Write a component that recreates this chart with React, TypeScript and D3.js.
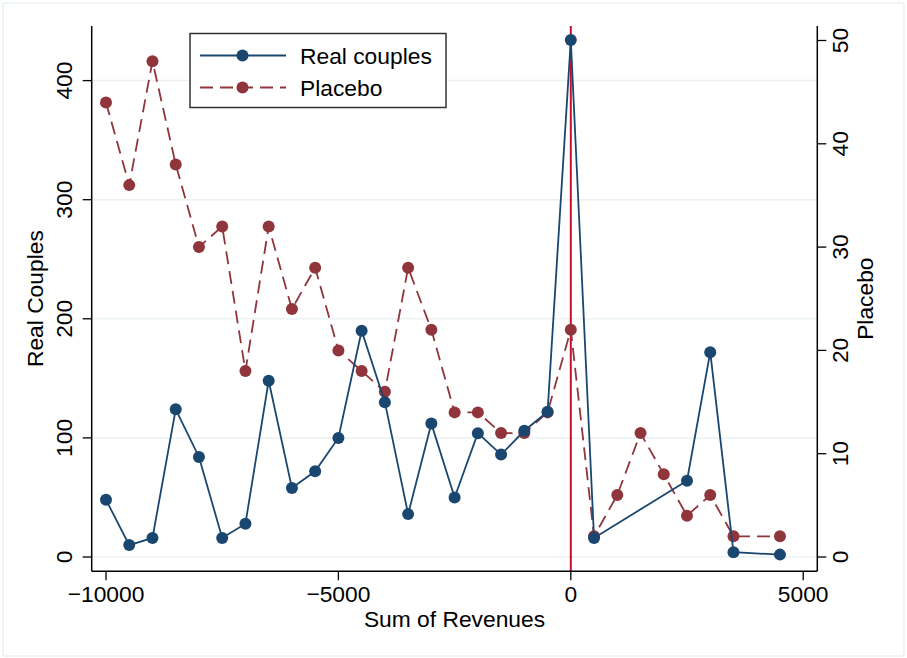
import React from "react";
import * as d3 from "d3";

const realX = [-10000, -9500, -9000, -8500, -8000, -7500, -7000, -6500, -6000, -5500, -5000, -4500, -4000, -3500, -3000, -2500, -2000, -1500, -1000, -500, 0, 500, 2500, 3000, 3500, 4500];
const realY = [48, 10, 16, 124, 84, 16, 28, 148, 58, 72, 100, 190, 130, 36, 112, 50, 104, 86, 106, 122, 434, 16, 64, 172, 4, 2];

const placeboX = [-10000, -9500, -9000, -8500, -8000, -7500, -7000, -6500, -6000, -5500, -5000, -4500, -4000, -3500, -3000, -2500, -2000, -1500, -1000, -500, 0, 500, 1000, 1500, 2000, 2500, 3000, 3500, 4500];
const placeboY = [44, 36, 48, 38, 30, 32, 18, 32, 24, 28, 20, 18, 16, 28, 22, 14, 14, 12, 12, 14, 22, 2, 6, 12, 8, 4, 6, 2, 2];

const xTicks = [-10000, -5000, 0, 5000];
const leftTicks = [0, 100, 200, 300, 400];
const rightTicks = [0, 10, 20, 30, 40, 50];
const legendLabels = ["Real couples", "Placebo"];

const W = 907;
const H = 658;
const plotL = 91.7;
const plotR = 817.3;
const plotT = 26;
const plotB = 571.3;

const BLUE = "#1a476f";
const RED = "#90353b";
const VLINE = "#c8102e";
const GRID = "#eaf2f3";
const FONT = "'Liberation Sans', Arial, Helvetica, sans-serif";
const FS = 22.8;

export default function App() {
  const x = d3.scaleLinear().domain([-10000, 5000]).range([106, 803.2]);
  const yL = d3.scaleLinear().domain([0, 400]).range([557, 80.6]);
  const yR = d3.scaleLinear().domain([0, 50]).range([557, 40.5]);

  const realPts: [number, number][] = realX.map((v, i) => [x(v), yL(realY[i])]);
  const placeboPts: [number, number][] = placeboX.map((v, i) => [x(v), yR(placeboY[i])]);
  const line = d3.line();

  const midY = (plotT + plotB) / 2;
  const midX = (plotL + plotR) / 2;

  return (
    <svg width={W} height={H} style={{ display: "block", position: "absolute", left: 0, top: 0 }} fontFamily={FONT}>
      <rect x={0} y={0} width={W} height={H} fill="#ffffff" />
      <rect x={3} y={3} width={W - 6} height={H - 5} fill="#ffffff" stroke={GRID} strokeWidth={1.5} />

      {leftTicks.map((t) => (
        <line key={"g" + t} x1={plotL} x2={plotR} y1={yL(t)} y2={yL(t)} stroke={GRID} strokeWidth={1.5} />
      ))}

      <line x1={x(0)} x2={x(0)} y1={plotT} y2={plotB} stroke={VLINE} strokeWidth={2} />

      <path d={line(placeboPts) || ""} fill="none" stroke={RED} strokeWidth={1.8} strokeDasharray="13,7" />
      {placeboPts.map((p, i) => (
        <circle key={"p" + i} cx={p[0]} cy={p[1]} r={6} fill={RED} />
      ))}

      <path d={line(realPts) || ""} fill="none" stroke={BLUE} strokeWidth={1.8} />
      {realPts.map((p, i) => (
        <circle key={"r" + i} cx={p[0]} cy={p[1]} r={6} fill={BLUE} />
      ))}

      <line x1={plotL} x2={plotL} y1={plotT} y2={plotB} stroke="#000" strokeWidth={1.5} />
      <line x1={plotR} x2={plotR} y1={plotT} y2={plotB} stroke="#000" strokeWidth={1.5} />
      <line x1={plotL} x2={plotR} y1={plotB} y2={plotB} stroke="#000" strokeWidth={1.5} />

      {leftTicks.map((t) => (
        <g key={"lt" + t}>
          <line x1={plotL - 9} x2={plotL} y1={yL(t)} y2={yL(t)} stroke="#000" strokeWidth={1.3} />
          <text transform={`translate(${72},${yL(t)}) rotate(-90)`} textAnchor="middle" fontSize={FS} fill="#000">
            {t}
          </text>
        </g>
      ))}

      {rightTicks.map((t) => (
        <g key={"rt" + t}>
          <line x1={plotR} x2={plotR + 9} y1={yR(t)} y2={yR(t)} stroke="#000" strokeWidth={1.3} />
          <text transform={`translate(${848},${yR(t)}) rotate(-90)`} textAnchor="middle" fontSize={FS} fill="#000">
            {t}
          </text>
        </g>
      ))}

      {xTicks.map((t) => (
        <g key={"xt" + t}>
          <line x1={x(t)} x2={x(t)} y1={plotB} y2={plotB + 9} stroke="#000" strokeWidth={1.3} />
          <text x={x(t)} y={601.5} textAnchor="middle" fontSize={FS} fill="#000">
            {t < 0 ? "\u2212" + Math.abs(t) : String(t)}
          </text>
        </g>
      ))}

      <text x={midX} y={627} textAnchor="middle" fontSize={FS} fill="#000">
        Sum of Revenues
      </text>
      <text transform={`translate(${43},${midY}) rotate(-90)`} textAnchor="middle" fontSize={FS} fill="#000">
        Real Couples
      </text>
      <text transform={`translate(${873},${midY}) rotate(-90)`} textAnchor="middle" fontSize={FS} fill="#000">
        Placebo
      </text>

      <rect x={190} y={33.5} width={256} height={74} fill="#ffffff" stroke="#333" strokeWidth={1.5} />
      <line x1={200} x2={286} y1={55.5} y2={55.5} stroke={BLUE} strokeWidth={1.8} />
      <circle cx={242.5} cy={55.5} r={6} fill={BLUE} />
      <text x={300} y={63.5} fontSize={FS} fill="#000">
        {legendLabels[0]}
      </text>
      <line x1={200} x2={286} y1={87.5} y2={87.5} stroke={RED} strokeWidth={1.8} strokeDasharray="13,7" />
      <circle cx={242.5} cy={87.5} r={6} fill={RED} />
      <text x={300} y={95.5} fontSize={FS} fill="#000">
        {legendLabels[1]}
      </text>
    </svg>
  );
}
